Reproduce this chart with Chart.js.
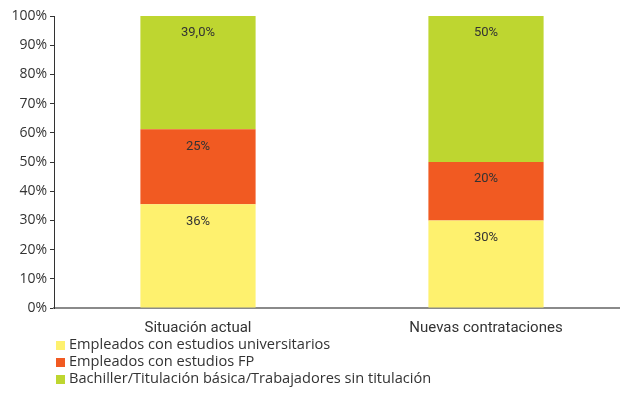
<!DOCTYPE html>
<html><head><meta charset="utf-8">
<script src="https://cdn.jsdelivr.net/npm/chart.js@4/dist/chart.umd.min.js"></script>
<style>html,body{margin:0;padding:0;background:#fff;overflow:hidden;width:620px;height:414px}
#wrap{width:630px;height:414px;position:relative}</style>
</head><body><div id="wrap"><canvas id="c" width="630" height="414"></canvas></div>
<script>
const categories = ['Situación actual', 'Nuevas contrataciones'];
const seriesNames = ['Empleados con estudios universitarios', 'Empleados con estudios FP', 'Bachiller/Titulación básica/Trabajadores sin titulación'];
const universitarios = [35.5, 30];
const fp = [25.7, 20];
const bachiller = [38.8, 50];
const universitariosLabels = ['36%', '30%'];
const fpLabels = ['25%', '20%'];
const bachillerLabels = ['39,0%', '50%'];
const yTicks = [0, 10, 20, 30, 40, 50, 60, 70, 80, 90, 100];
const colors = ['#FEF16E', '#F15A22', '#BED630'];

const valueLabels = [universitariosLabels, fpLabels, bachillerLabels];

const labelPlugin = {
  id: 'segLabels',
  afterDatasetsDraw(chart) {
    const ctx = chart.ctx;
    ctx.save();
    ctx.font = '13px "Roboto", sans-serif';
    ctx.fillStyle = '#333';
    ctx.textAlign = 'center';
    ctx.textBaseline = 'middle';
    chart.data.datasets.forEach((ds, di) => {
      chart.getDatasetMeta(di).data.forEach((el, i) => {
        ctx.fillText(valueLabels[di][i], el.x, el.y + 17);
      });
    });
    ctx.restore();
  }
};

const legendPlugin = {
  id: 'customLegend',
  afterDraw(chart) {
    const ctx = chart.ctx;
    ctx.save();
    ctx.font = '14.6px "Open Sans", sans-serif';
    ctx.textBaseline = 'middle';
    ctx.textAlign = 'left';
    const baseY = chart.chartArea.bottom + 37;
    seriesNames.forEach((name, i) => {
      const y = baseY + i * 17;
      ctx.fillStyle = colors[i];
      ctx.fillRect(56, y - 4, 9, 9);
      ctx.fillStyle = '#333';
      ctx.fillText(name, 69, y);
    });
    ctx.restore();
  }
};

new Chart(document.getElementById('c'), {
  type: 'bar',
  data: {
    labels: categories,
    datasets: [
      { label: seriesNames[0], data: universitarios, backgroundColor: colors[0] },
      { label: seriesNames[1], data: fp, backgroundColor: colors[1] },
      { label: seriesNames[2], data: bachiller, backgroundColor: colors[2] }
    ]
  },
  options: {
    responsive: false,
    animation: false,
    layout: { padding: { top: 16, bottom: 76, left: 0, right: 0 } },
    plugins: { legend: { display: false }, tooltip: { enabled: false } },
    datasets: { bar: { barPercentage: 0.4, categoryPercentage: 1 } },
    scales: {
      x: {
        stacked: true,
        offset: true,
        grid: { display: false, drawOnChartArea: false },
        border: { color: '#8a8a8a', width: 2 },
        ticks: { color: '#333', font: { family: '"Roboto", sans-serif', size: 15 }, padding: 3 },
        afterFit(s) { s.height = 30; }
      },
      y: {
        stacked: true,
        min: 0, max: 100,
        afterBuildTicks(s) { s.ticks = yTicks.map(v => ({ value: v })); },
        grid: { drawOnChartArea: false, tickLength: 4, color: '#333' },
        border: { color: '#333', width: 1 },
        ticks: { color: '#333', font: { family: '"Open Sans", sans-serif', size: 14 }, padding: 3,
          callback: v => v + '%' },
        afterFit(s) { s.width = 54; }
      }
    }
  },
  plugins: [labelPlugin, legendPlugin]
});
</script></body></html>
